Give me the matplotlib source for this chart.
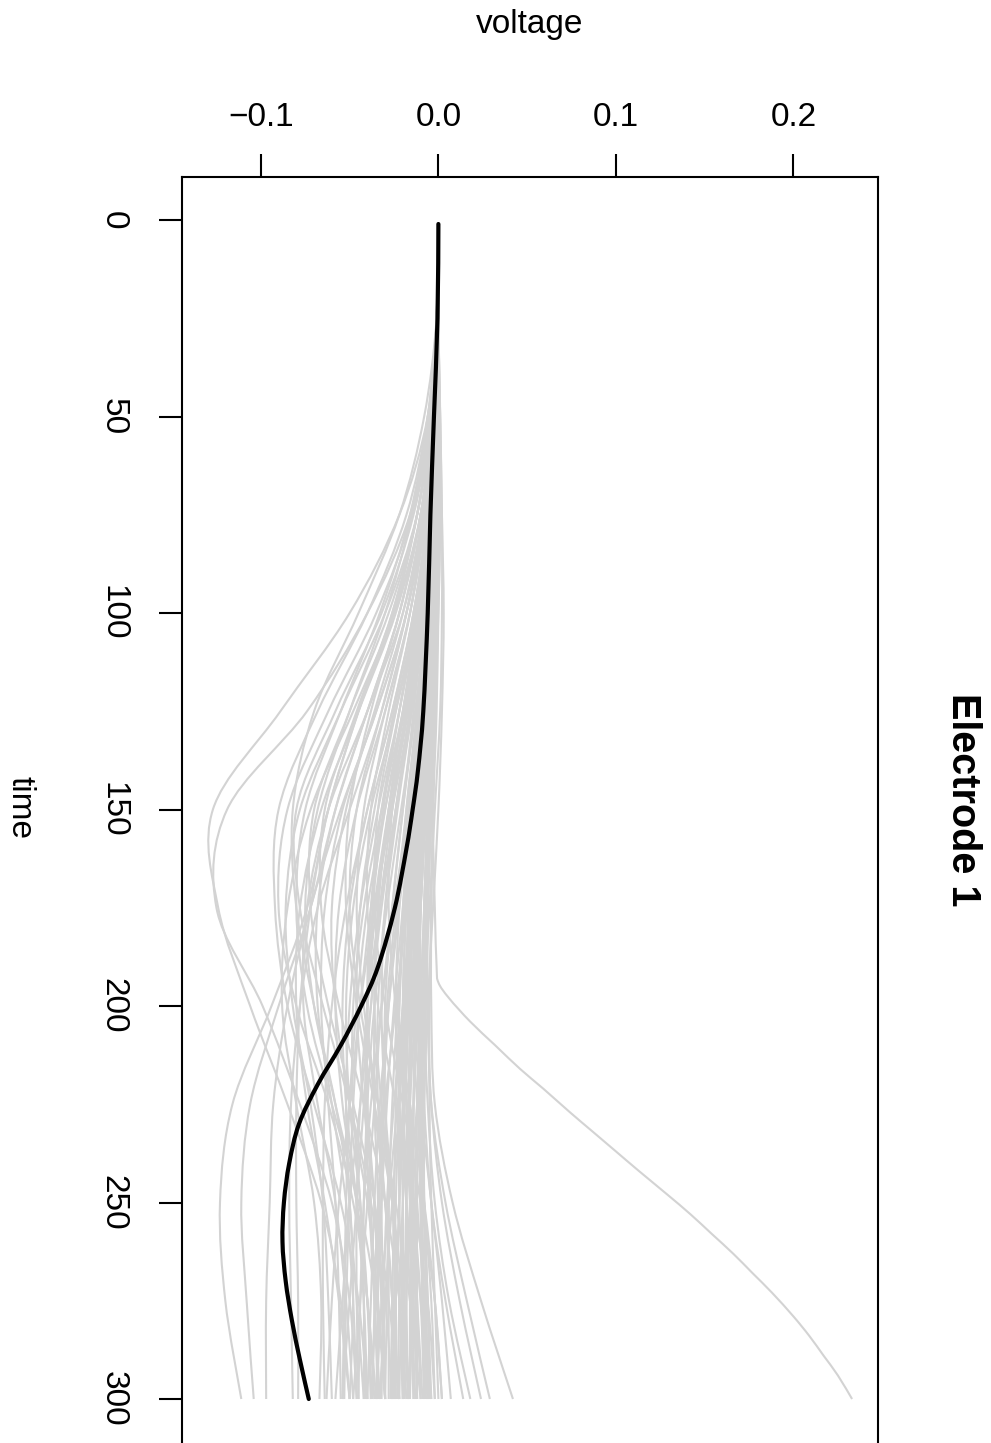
import matplotlib
matplotlib.use("Agg")
import matplotlib.pyplot as plt
from matplotlib.path import Path
from matplotlib.patches import PathPatch

plt.rcParams['font.family'] = ['Liberation Sans', 'DejaVu Sans']

# ---------------- data ----------------
time_points = [1, 25, 50, 75, 100, 125, 150, 175, 200, 225, 250, 275, 300]

# grey single-trial curves, voltage at each of time_points
trial_voltages = [
    [0, -0.001, -0.006, -0.022, -0.050, -0.089, -0.127, -0.124, -0.106, -0.085, -0.066, -0.055, -0.050],
    [0, -0.001, -0.005, -0.016, -0.040, -0.074, -0.119, -0.125, -0.099, -0.078, -0.060, -0.050, -0.046],
    [0, 0, -0.004, -0.012, -0.025, -0.045, -0.062, -0.074, -0.094, -0.116, -0.123, -0.120, -0.111],
    [0, 0, -0.003, -0.010, -0.022, -0.040, -0.058, -0.072, -0.090, -0.106, -0.111, -0.108, -0.104],
    [0, 0, -0.003, -0.008, -0.018, -0.035, -0.055, -0.072, -0.085, -0.093, -0.095, -0.097, -0.097],
    [0, 0, -0.002, -0.008, -0.018, -0.032, -0.050, -0.068, -0.078, -0.083, -0.084, -0.083, -0.082],
    [0, -0.001, -0.004, -0.012, -0.026, -0.045, -0.062, -0.072, -0.078, -0.080, -0.080, -0.079, -0.079],
    [0, -0.001, -0.006, -0.018, -0.040, -0.068, -0.090, -0.092, -0.085, -0.070, -0.055, -0.045, -0.040],
    [0, -0.001, -0.005, -0.015, -0.035, -0.062, -0.085, -0.090, -0.080, -0.062, -0.048, -0.040, -0.035],
    [0, -0.001, -0.008, -0.022, -0.045, -0.070, -0.082, -0.080, -0.070, -0.058, -0.050, -0.048, -0.050],
    [0, 0, -0.004, -0.012, -0.030, -0.055, -0.078, -0.086, -0.082, -0.072, -0.065, -0.062, -0.060],
    [0, 0, -0.003, -0.010, -0.025, -0.048, -0.072, -0.085, -0.088, -0.080, -0.070, -0.066, -0.067],
    [0, -0.001, -0.006, -0.016, -0.033, -0.055, -0.075, -0.080, -0.074, -0.060, -0.045, -0.035, -0.030],
    [0, 0, -0.004, -0.014, -0.032, -0.058, -0.080, -0.078, -0.065, -0.050, -0.038, -0.030, -0.026],
    [0, 0, -0.003, -0.010, -0.024, -0.045, -0.066, -0.078, -0.080, -0.074, -0.064, -0.056, -0.050],
    [0, -0.001, -0.005, -0.015, -0.030, -0.050, -0.068, -0.075, -0.070, -0.058, -0.046, -0.040, -0.038],
    [0, 0, -0.002, -0.008, -0.020, -0.040, -0.062, -0.074, -0.076, -0.068, -0.058, -0.052, -0.048],
    [0, 0, -0.004, -0.012, -0.028, -0.050, -0.070, -0.072, -0.062, -0.048, -0.036, -0.028, -0.022],
    [0, 0, -0.003, -0.010, -0.022, -0.040, -0.058, -0.068, -0.068, -0.060, -0.052, -0.048, -0.046],
    [0, -0.001, -0.004, -0.012, -0.026, -0.046, -0.064, -0.066, -0.056, -0.042, -0.030, -0.022, -0.018],
    [0, 0, -0.002, -0.008, -0.018, -0.035, -0.054, -0.064, -0.066, -0.062, -0.058, -0.056, -0.055],
    [0, 0, -0.003, -0.009, -0.020, -0.036, -0.052, -0.060, -0.058, -0.050, -0.040, -0.034, -0.030],
    [0, 0, -0.002, -0.007, -0.016, -0.030, -0.046, -0.056, -0.058, -0.054, -0.046, -0.040, -0.036],
    [0, -0.001, -0.004, -0.010, -0.022, -0.038, -0.050, -0.052, -0.046, -0.036, -0.026, -0.020, -0.016],
    [0, 0, -0.002, -0.006, -0.014, -0.026, -0.040, -0.050, -0.054, -0.052, -0.046, -0.042, -0.040],
    [0, 0, -0.003, -0.008, -0.018, -0.032, -0.046, -0.050, -0.044, -0.034, -0.024, -0.016, -0.010],
    [0, 0, -0.001, -0.005, -0.012, -0.024, -0.038, -0.048, -0.052, -0.050, -0.044, -0.040, -0.038],
    [0, 0, -0.002, -0.007, -0.016, -0.030, -0.042, -0.046, -0.042, -0.034, -0.026, -0.022, -0.020],
    [0, 0, -0.002, -0.006, -0.014, -0.025, -0.036, -0.044, -0.046, -0.042, -0.036, -0.032, -0.030],
    [0, 0, -0.001, -0.004, -0.010, -0.020, -0.032, -0.042, -0.048, -0.048, -0.044, -0.042, -0.042],
    [0, -0.001, -0.003, -0.008, -0.016, -0.028, -0.038, -0.040, -0.034, -0.024, -0.014, -0.006, -0.002],
    [0, 0, -0.002, -0.005, -0.012, -0.022, -0.032, -0.038, -0.040, -0.036, -0.030, -0.026, -0.024],
    [0, 0, -0.001, -0.004, -0.009, -0.018, -0.028, -0.036, -0.040, -0.040, -0.036, -0.034, -0.034],
    [0, 0, -0.002, -0.006, -0.013, -0.024, -0.034, -0.036, -0.030, -0.020, -0.010, -0.002, 0.002],
    [0, 0, -0.001, -0.004, -0.010, -0.018, -0.028, -0.034, -0.036, -0.032, -0.026, -0.022, -0.020],
    [0, 0, -0.001, -0.004, -0.009, -0.016, -0.024, -0.030, -0.032, -0.030, -0.026, -0.024, -0.024],
    [0, 0, -0.002, -0.005, -0.010, -0.018, -0.026, -0.028, -0.024, -0.016, -0.008, -0.002, 0.002],
    [0, 0, -0.001, -0.003, -0.007, -0.013, -0.020, -0.026, -0.030, -0.030, -0.028, -0.028, -0.028],
    [0, 0, -0.001, -0.003, -0.007, -0.012, -0.018, -0.022, -0.024, -0.022, -0.018, -0.014, -0.012],
    [0, 0, -0.001, -0.003, -0.006, -0.011, -0.016, -0.020, -0.022, -0.022, -0.020, -0.020, -0.020],
    [0, 0, 0, -0.002, -0.005, -0.009, -0.014, -0.018, -0.020, -0.018, -0.014, -0.010, -0.008],
    [0, 0, -0.001, -0.003, -0.006, -0.010, -0.014, -0.016, -0.014, -0.010, -0.004, 0.002, 0.007],
    [0, 0, 0, -0.002, -0.004, -0.008, -0.012, -0.015, -0.016, -0.016, -0.015, -0.015, -0.016],
    [0, 0, 0, -0.001, -0.003, -0.006, -0.010, -0.012, -0.014, -0.012, -0.008, -0.004, -0.002],
    [0, 0, 0, -0.001, -0.003, -0.005, -0.008, -0.010, -0.010, -0.008, -0.004, 0.004, 0.014],
    [0, 0, 0, -0.001, -0.002, -0.004, -0.006, -0.008, -0.008, -0.006, -0.002, 0.006, 0.018],
    [0, 0, 0, -0.001, -0.002, -0.004, -0.006, -0.007, -0.006, -0.004, 0.002, 0.012, 0.024],
    [0, 0, 0, 0, -0.001, -0.003, -0.005, -0.006, -0.006, -0.004, 0.004, 0.016, 0.029],
    [0, 0, 0, 0, -0.001, -0.002, -0.003, -0.004, -0.004, -0.002, 0.008, 0.024, 0.042],
    [0, 0, 0, -0.001, -0.002, -0.004, -0.006, -0.008, -0.010, -0.011, -0.012, -0.012, -0.012],
    [0, 0, 0.001, 0.002, 0.002, 0.001, -0.002, -0.005, -0.008, -0.010, -0.010, -0.008, -0.006],
    [0, 0, 0.001, 0.002, 0.003, 0.002, 0, -0.003, -0.006, -0.008, -0.008, -0.006, -0.004],
    [0, 0, 0, 0.001, 0, -0.002, -0.004, -0.006, -0.008, -0.012, -0.016, -0.018, -0.020],
    [0, 0, -0.001, -0.002, -0.004, -0.006, -0.009, -0.012, -0.016, -0.020, -0.022, -0.024, -0.026],
    [0, 0, 0, -0.001, -0.003, -0.007, -0.012, -0.018, -0.024, -0.030, -0.034, -0.036, -0.037],
    [0, 0, -0.001, -0.002, -0.005, -0.010, -0.017, -0.025, -0.032, -0.038, -0.042, -0.044, -0.045],
    [0, 0, 0, -0.002, -0.005, -0.010, -0.016, -0.022, -0.028, -0.033, -0.036, -0.038, -0.040],
    [0, 0, -0.001, -0.002, -0.004, -0.007, -0.010, -0.012, -0.012, -0.010, -0.008, -0.006, -0.005],
    [0, 0, 0, -0.001, -0.002, -0.004, -0.007, -0.010, -0.012, -0.014, -0.014, -0.013, -0.012],
    [0, 0, 0, 0, -0.001, -0.002, -0.004, -0.006, -0.007, -0.008, -0.008, -0.007, -0.006],
    [0, 0, 0.001, 0.001, 0, -0.001, -0.003, -0.004, -0.005, -0.005, -0.004, -0.002, 0],
    [0, 0, -0.001, -0.003, -0.006, -0.010, -0.015, -0.019, -0.022, -0.024, -0.025, -0.026, -0.027],
    [0, 0, -0.001, -0.002, -0.004, -0.008, -0.012, -0.016, -0.018, -0.018, -0.016, -0.012, -0.009],
    [0, 0, 0, -0.001, -0.003, -0.006, -0.010, -0.014, -0.018, -0.022, -0.026, -0.030, -0.033],
    [0, 0, -0.001, -0.004, -0.009, -0.016, -0.024, -0.032, -0.038, -0.044, -0.050, -0.054, -0.058],
    [0, 0, 0, -0.002, -0.005, -0.009, -0.013, -0.016, -0.018, -0.020, -0.022, -0.024, -0.025],
    [0, 0, -0.002, -0.006, -0.012, -0.020, -0.028, -0.034, -0.036, -0.036, -0.034, -0.034, -0.035],
    [0, 0, -0.001, -0.004, -0.008, -0.014, -0.020, -0.026, -0.032, -0.036, -0.040, -0.044, -0.048],
    [0, 0, -0.002, -0.005, -0.011, -0.020, -0.030, -0.038, -0.044, -0.048, -0.050, -0.052, -0.053],
    [0, 0, -0.001, -0.003, -0.006, -0.010, -0.014, -0.017, -0.018, -0.016, -0.012, -0.008, -0.004],
    [0, 0, 0, -0.001, -0.002, -0.004, -0.007, -0.010, -0.013, -0.016, -0.018, -0.019, -0.019],
    [0, 0, -0.001, -0.003, -0.007, -0.013, -0.021, -0.029, -0.036, -0.040, -0.042, -0.042, -0.041],
    [0, 0, -0.001, -0.002, -0.004, -0.006, -0.008, -0.010, -0.011, -0.011, -0.010, -0.009, -0.008],
    [0, 0, 0, -0.001, -0.003, -0.006, -0.010, -0.015, -0.020, -0.025, -0.029, -0.031, -0.032],
    [0, 0, -0.001, -0.004, -0.008, -0.015, -0.023, -0.030, -0.034, -0.034, -0.030, -0.026, -0.022],
    [0, 0, 0, -0.001, -0.003, -0.005, -0.008, -0.011, -0.014, -0.017, -0.020, -0.022, -0.023],
    [0, 0, -0.001, -0.003, -0.006, -0.011, -0.017, -0.023, -0.028, -0.031, -0.032, -0.031, -0.030],
    [0, 0, 0, -0.001, -0.002, -0.003, -0.005, -0.007, -0.009, -0.010, -0.010, -0.009, -0.007],
    [0, 0, -0.001, -0.004, -0.010, -0.019, -0.030, -0.040, -0.046, -0.050, -0.052, -0.053, -0.054],
    [0, 0, -0.002, -0.006, -0.013, -0.022, -0.031, -0.037, -0.040, -0.040, -0.038, -0.036, -0.034],
    [0, 0, 0, -0.002, -0.004, -0.007, -0.011, -0.015, -0.019, -0.022, -0.024, -0.025, -0.026],
    [0, 0, -0.001, -0.002, -0.005, -0.009, -0.014, -0.019, -0.023, -0.026, -0.028, -0.029, -0.030],
    [0, 0, 0, -0.001, -0.002, -0.004, -0.006, -0.008, -0.010, -0.012, -0.013, -0.014, -0.014],
    [0, 0, -0.001, -0.003, -0.007, -0.012, -0.018, -0.024, -0.029, -0.032, -0.033, -0.032, -0.030],
    [0, 0, -0.001, -0.003, -0.008, -0.015, -0.024, -0.033, -0.040, -0.044, -0.046, -0.046, -0.045],
    [0, 0, 0, -0.002, -0.005, -0.009, -0.014, -0.018, -0.020, -0.020, -0.018, -0.016, -0.014],
    [0, 0, -0.002, -0.005, -0.010, -0.018, -0.026, -0.033, -0.038, -0.042, -0.046, -0.050, -0.054],
    [0, 0, 0, -0.001, -0.003, -0.006, -0.009, -0.012, -0.015, -0.017, -0.018, -0.018, -0.017],
    [0, 0, -0.001, -0.002, -0.005, -0.008, -0.012, -0.016, -0.020, -0.022, -0.022, -0.020, -0.017],
    [0, 0, -0.001, -0.003, -0.008, -0.016, -0.026, -0.036, -0.044, -0.050, -0.056, -0.060, -0.063],
    [0, 0, 0, -0.001, -0.003, -0.005, -0.008, -0.011, -0.013, -0.014, -0.014, -0.012, -0.010],
    [0, 0, -0.001, -0.003, -0.006, -0.010, -0.015, -0.020, -0.025, -0.029, -0.032, -0.035, -0.038],
    [0, 0, 0, 0, -0.001, -0.002, -0.004, -0.006, -0.008, -0.009, -0.009, -0.008, -0.006],
    [0, 0, -0.001, -0.004, -0.009, -0.017, -0.027, -0.035, -0.040, -0.041, -0.039, -0.036, -0.033],
    [0, 0, 0, -0.001, -0.003, -0.006, -0.010, -0.014, -0.017, -0.019, -0.020, -0.021, -0.022],
    [0, 0, -0.001, -0.002, -0.004, -0.007, -0.011, -0.014, -0.016, -0.016, -0.014, -0.010, -0.005],
    [0, 0, -0.002, -0.006, -0.014, -0.026, -0.040, -0.052, -0.060, -0.064, -0.065, -0.065, -0.064],
    [0, 0, -0.001, -0.005, -0.012, -0.022, -0.034, -0.044, -0.050, -0.052, -0.050, -0.046, -0.042],
    [0, 0, 0, -0.001, -0.003, -0.005, -0.009, -0.013, -0.018, -0.023, -0.028, -0.032, -0.035],
    [0, 0, -0.001, -0.002, -0.004, -0.007, -0.010, -0.013, -0.015, -0.016, -0.016, -0.015, -0.013],
    [0, 0, 0, -0.001, -0.002, -0.004, -0.007, -0.010, -0.012, -0.014, -0.015, -0.016, -0.016],
]

# the one trial that swings positive late
outlier_time = [1, 50, 100, 150, 175, 190, 194, 198, 204, 210, 216, 221, 227, 232, 237,
                242, 248, 253, 258, 263, 268, 273, 279, 284, 289, 294, 300]
outlier_voltage = [0, -0.001, -0.002, -0.003, -0.002, -0.001, 0.0, 0.006, 0.018, 0.032,
                   0.046, 0.059, 0.074, 0.087, 0.100, 0.113, 0.129, 0.142, 0.154, 0.166,
                   0.177, 0.188, 0.200, 0.209, 0.217, 0.225, 0.233]

# black average curve
mean_time = [1, 25, 50, 75, 100, 125, 140, 150, 160, 175, 190, 200, 210, 220, 230,
             240, 250, 260, 270, 280, 290, 300]
mean_voltage = [0, -0.0005, -0.0025, -0.0045, -0.006, -0.0085, -0.0115, -0.0145, -0.018,
                -0.0245, -0.034, -0.0435, -0.055, -0.068, -0.0785, -0.084, -0.087,
                -0.0878, -0.086, -0.0825, -0.078, -0.073]

voltage_ticks = [-0.1, 0.0, 0.1, 0.2]
time_ticks = [0, 50, 100, 150, 200, 250, 300]


def smooth_path(xs, ys):
    """Smooth (Catmull-Rom style) cubic Bezier path through the given points."""
    pts = list(zip(xs, ys))
    n = len(pts)
    verts = [pts[0]]
    codes = [Path.MOVETO]
    for i in range(n - 1):
        p0 = pts[i - 1] if i > 0 else pts[i]
        p1 = pts[i]
        p2 = pts[i + 1]
        p3 = pts[i + 2] if i + 2 < n else pts[i + 1]
        c1 = (p1[0] + (p2[0] - p0[0]) / 6.0, p1[1] + (p2[1] - p0[1]) / 6.0)
        c2 = (p2[0] - (p3[0] - p1[0]) / 6.0, p2[1] - (p3[1] - p1[1]) / 6.0)
        verts += [c1, c2, p2]
        codes += [Path.CURVE4] * 3
    return Path(verts, codes)


# ---------------- figure ----------------
W, H = 991, 1443
fig = plt.figure(figsize=(W / 100, H / 100), dpi=100)
ax_l, ax_r, ax_t, ax_b = 182, 878, 177, 1446
ax = fig.add_axes([ax_l / W, 1 - ax_b / H, (ax_r - ax_l) / W, (ax_b - ax_t) / H])

grey = '#D3D3D3'
for v in trial_voltages:
    ax.add_patch(PathPatch(smooth_path(v, time_points), fill=False,
                           edgecolor=grey, lw=1.5, joinstyle='round'))
ax.add_patch(PathPatch(smooth_path(outlier_voltage, outlier_time), fill=False,
                       edgecolor=grey, lw=1.5))
ax.add_patch(PathPatch(smooth_path(mean_voltage, mean_time), fill=False,
                       edgecolor='black', lw=3.0, capstyle='round', zorder=3))

ax.set_xlim(-0.1444, 0.2476)
ax.set_ylim(311.96, -10.96)

ax.xaxis.tick_top()
ax.set_xticks(voltage_ticks)
ax.set_xticklabels(['\u22120.1', '0.0', '0.1', '0.2'])
ax.set_yticks(time_ticks)
ax.set_yticklabels([str(t) for t in time_ticks], rotation=-90, va='center')

ax.tick_params(axis='both', direction='out', length=16.5, width=1.5,
               labelsize=24, color='black')
ax.tick_params(axis='x', pad=15)
ax.tick_params(axis='y', pad=22)
for s in ax.spines.values():
    s.set_linewidth(1.5)

fig.text(530 / W, 1 - 25 / H, 'voltage', ha='center', va='center', fontsize=24)
fig.text(20 / W, 1 - 808 / H, 'time', ha='center', va='center', fontsize=24, rotation=-90)
fig.text(963 / W, 1 - 800 / H, 'Electrode 1', ha='center', va='center', fontsize=28.5,
         fontweight='bold', rotation=-90)

fig.savefig('out.png', dpi=100)
